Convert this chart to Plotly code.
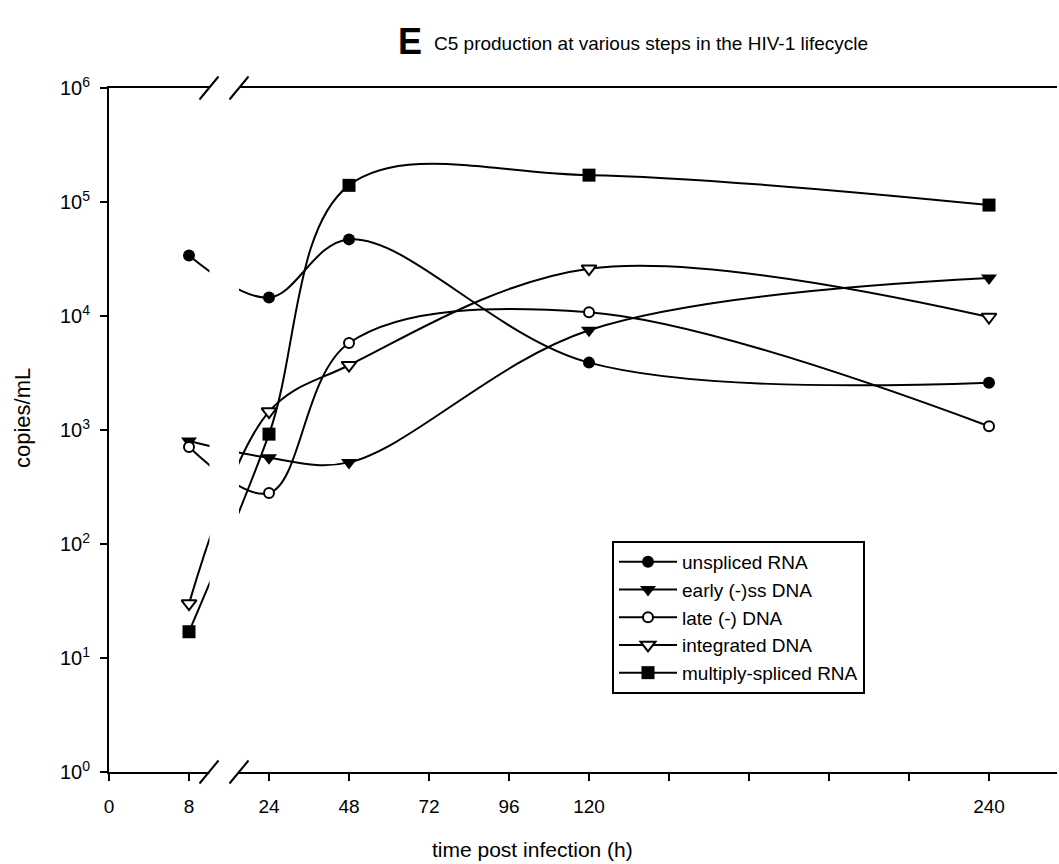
import plotly.graph_objects as go

# ---- data ----
hours = [8, 24, 48, 120, 240]
unspliced_rna = [34000, 14500, 47000, 3900, 2600]
early_ss_dna = [800, 570, 520, 7500, 21500]
late_dna = [710, 280, 5800, 10800, 1080]
integrated_dna = [30, 1450, 3700, 26000, 9800]
multiply_spliced_rna = [17, 920, 140000, 172000, 94000]

tick_hours = [0, 8, 24, 48, 72, 96, 120, 144, 168, 192, 216, 240]
tick_text = ["0", "8", "24", "48", "72", "96", "120", "", "", "", "", "240"]
y_tickvals = [1, 10, 100, 1000, 10000, 100000, 1000000]
y_ticktext = ["10<sup>%d</sup>" % i for i in range(7)]


def pos(h):
    """Broken axis: 0-8 h compressed scale, 24 h onward linear (24 h per unit)."""
    return h / 8.0 if h <= 8 else h / 24.0 + 1.0


X_MAX = 11.85
FONT = "Liberation Sans, Arial, Helvetica, sans-serif"

series = [
    ("unspliced RNA", unspliced_rna, dict(symbol="circle", size=12, color="black")),
    ("early (-)ss DNA", early_ss_dna, dict(symbol="triangle-down", size=14, color="black")),
    ("late (-) DNA", late_dna, dict(symbol="circle", size=10, color="white",
                                     line=dict(color="black", width=2))),
    ("integrated DNA", integrated_dna, dict(symbol="triangle-down", size=13, color="white",
                                            line=dict(color="black", width=2))),
    ("multiply-spliced RNA", multiply_spliced_rna, dict(symbol="square", size=13, color="black")),
]

fig = go.Figure()
for name, vals, mk in series:
    fig.add_trace(go.Scatter(
        x=[pos(h) for h in hours], y=vals, name=name, mode="lines+markers",
        line=dict(color="black", width=2, shape="spline", smoothing=1),
        marker=mk, cliponaxis=False,
    ))

# axis break: white gap + slash marks
gap_l, gap_r = 1.256, 1.625
def px(xd):
    return xd / X_MAX

shapes = [dict(type="rect", xref="paper", yref="paper", x0=px(gap_l), x1=px(gap_r),
               y0=-0.03, y1=1.03, fillcolor="white", line=dict(width=0), layer="above")]
dx = 9.5 / 80.0
dy = 11.5 / 684.0
for cx in (1.25, 1.625):
    for cy in (0.0, 1.0):
        shapes.append(dict(type="line", xref="paper", yref="paper",
                           x0=px(cx - dx), x1=px(cx + dx), y0=cy - dy, y1=cy + dy,
                           line=dict(color="black", width=2), layer="above"))

fig.update_layout(
    width=1059, height=864,
    margin=dict(l=109, r=2, t=88, b=92),
    paper_bgcolor="white", plot_bgcolor="white",
    font=dict(family=FONT, color="black", size=18),
    showlegend=True,
    legend=dict(x=(612 - 109) / 948.0, y=(772 - 541) / 684.0, xanchor="left", yanchor="top",
                bordercolor="black", borderwidth=2, bgcolor="white",
                font=dict(size=19, family=FONT), itemwidth=58, tracegroupgap=0),
    xaxis=dict(range=[0, X_MAX], tickmode="array",
               tickvals=[pos(h) for h in tick_hours], ticktext=tick_text,
               showgrid=False, zeroline=False, showline=True, linecolor="black", linewidth=2,
               mirror=True, ticks="outside", ticklen=7, tickwidth=2, tickcolor="black",
               tickfont=dict(size=19), ticklabelstandoff=9),
    yaxis=dict(type="log", range=[0, 6], tickmode="array", tickvals=y_tickvals,
               ticktext=y_ticktext, showgrid=False, zeroline=False, showline=True,
               linecolor="black", linewidth=2, ticks="outside", ticklen=7, tickwidth=2,
               tickcolor="black", tickfont=dict(size=20), ticklabelstandoff=6),
    shapes=shapes,
    annotations=[
        dict(text="<b>E</b>", xref="paper", yref="paper", x=(410 - 109) / 948.0, y=1 + (88 - 41) / 684.0,
             xanchor="center", yanchor="middle", showarrow=False, font=dict(size=36, family=FONT)),
        dict(text="C5 production at various steps in the HIV-1 lifecycle", xref="paper", yref="paper",
             x=(432 - 109) / 948.0, y=1 + (88 - 44) / 684.0, xanchor="left", yanchor="middle",
             showarrow=False, font=dict(size=19, family=FONT)),
        dict(text="copies/mL", xref="paper", yref="paper", x=(23 - 109) / 948.0,
             y=(772 - 418) / 684.0, textangle=-90, xanchor="center", yanchor="middle",
             showarrow=False, font=dict(size=22)),
        dict(text="time post infection (h)", xref="paper", yref="paper", x=(532 - 109) / 948.0,
             y=-(850 - 772) / 684.0, xanchor="center", yanchor="middle", showarrow=False,
             font=dict(size=21)),
    ],
)

fig.write_html("out.html")
